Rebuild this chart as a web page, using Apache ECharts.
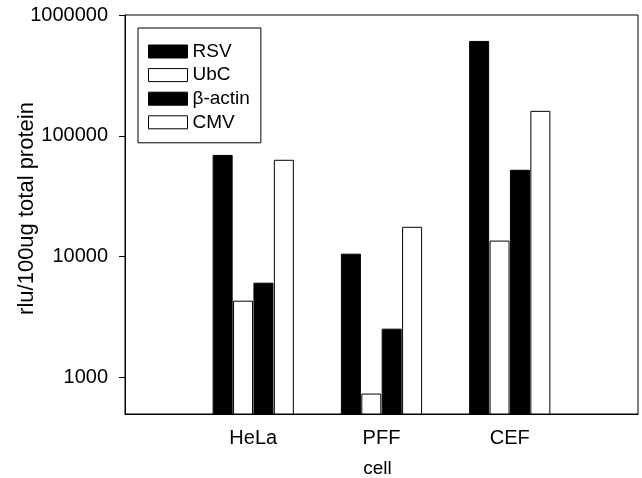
<!DOCTYPE html>
<html><head><meta charset="utf-8">
<script src="https://cdn.jsdelivr.net/npm/echarts@6/dist/echarts.min.js"></script>
<style>html,body{margin:0;padding:0;background:#fff}#c{width:642px;height:478px}</style>
</head><body><div id="c"></div>
<script>
const categories = ['', 'HeLa', 'PFF', 'CEF', ''];
const seriesNames = ['RSV', 'UbC', 'β-actin', 'CMV'];
const rsv = [null, 69600, 10600, 610000, null];
const ubc = [null, 4330, 738, 13600, null];
const bactin = [null, 6100, 2540, 52400, null];
const cmv = [null, 63400, 17700, 161000, null];
const yTicks = [1000, 10000, 100000, 1000000];

const font = 'Liberation Sans, Arial, sans-serif';
const fills = ['#000', '#fff', '#000', '#fff'];
const values = [rsv, ubc, bactin, cmv];

const chart = echarts.init(document.getElementById('c'));
chart.setOption({
  animation: false,
  backgroundColor: '#fff',
  textStyle: { fontFamily: font, color: '#000' },
  grid: { left: 125, right: 4, top: 15, bottom: 64, containLabel: false, outerBoundsMode: 'none',
          show: true, borderColor: '#000', borderWidth: 1, backgroundColor: 'transparent' },
  legend: {
    orient: 'vertical', left: 138, top: 28,
    data: seriesNames,
    icon: 'rect',
    itemWidth: 39, itemHeight: 13, itemGap: 4.6,
    padding: [14, 11, 11, 10],
    borderColor: '#000', borderWidth: 1, backgroundColor: '#fff', borderRadius: 0,
    textStyle: { fontFamily: font, fontSize: 19, color: '#000' },
    itemStyle: { borderColor: '#000', borderWidth: 1 }
  },
  xAxis: {
    type: 'category', data: categories, boundaryGap: false,
    axisLine: { lineStyle: { color: '#000', width: 1 } },
    axisTick: { show: false },
    axisLabel: { fontSize: 20, color: '#000', margin: 14, fontFamily: font },
    name: 'cell', nameLocation: 'middle', nameGap: 45, nameMoveOverlap: false,
    nameTextStyle: { fontSize: 19, color: '#000', fontFamily: font, padding: [0, 8, 0, 0] },
    splitLine: { show: false }
  },
  yAxis: {
    type: 'log', logBase: 10, min: 500, max: 1000000,
    axisLine: { show: true, lineStyle: { color: '#000', width: 1 } },
    axisTick: { show: true, length: 6, lineStyle: { color: '#000' } },
    axisLabel: {
      fontSize: 20, color: '#000', margin: 17, fontFamily: font, showMinLabel: false,
      formatter: v => (yTicks.indexOf(Math.round(v)) >= 0 ? String(Math.round(v)) : '')
    },
    splitLine: { show: false },
    name: 'rlu/100ug total protein', nameLocation: 'middle', nameGap: 87, nameMoveOverlap: false,
    nameTextStyle: { fontSize: 22, color: '#000', fontFamily: font, padding: [0, 0, 0, 12] }
  },
  series: seriesNames.map((n, i) => ({
    name: n, type: 'bar', data: values[i], barWidth: 20, barGap: '2%',
    itemStyle: { color: fills[i], borderColor: '#000', borderWidth: 1 }
  }))
});
</script></body></html>
